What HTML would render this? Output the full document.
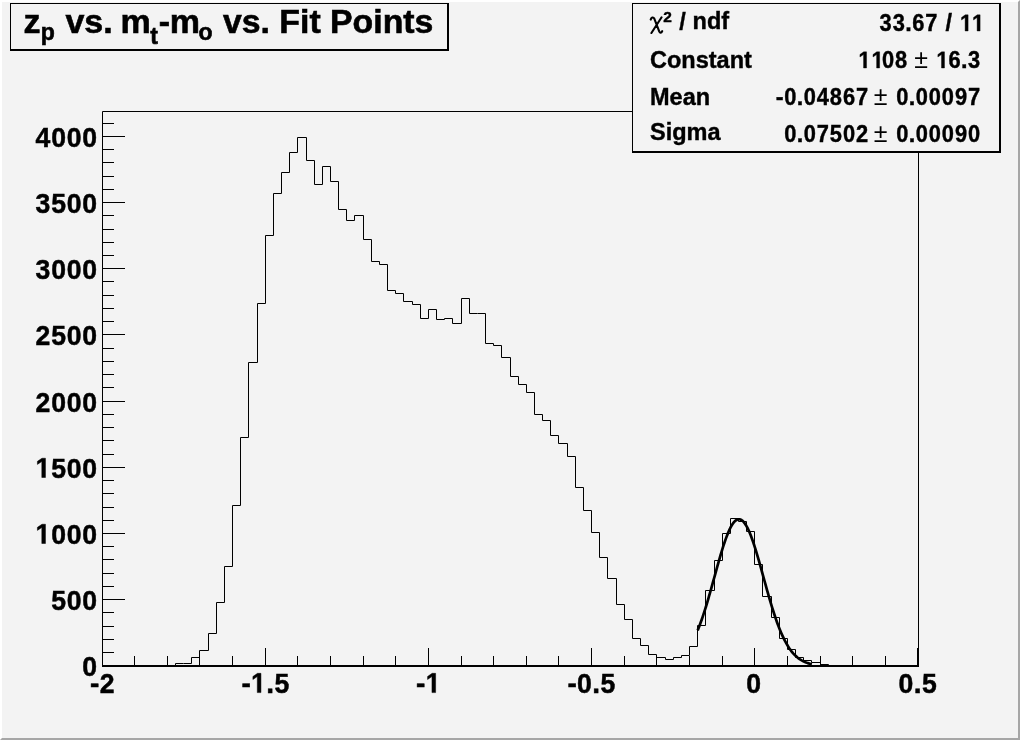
<!DOCTYPE html>
<html><head><meta charset="utf-8"><style>
html,body{margin:0;padding:0;background:#f3f3f3;}
svg{display:block;will-change:transform;}
</style></head><body>
<svg width="1020" height="740" viewBox="0 0 1020 740" font-family="'Liberation Sans', sans-serif" font-weight="bold" fill="#000">
<rect x="0" y="0" width="1020" height="740" fill="#f3f3f3"/>
<!-- canvas bevel -->
<polygon points="0,0 1020,0 1018,2 2,2 2,738 0,740" fill="#ffffff"/>
<polygon points="1020,0 1020,740 0,740 2,738 1018,738 1018,2" fill="#a6a6a6"/>
<!-- frame -->
<path d="M102.5 665.5 V111.5 H918.5 V665.5" fill="none" stroke="#000" stroke-width="1"/>
<rect x="102" y="665" width="817" height="2" fill="#000"/>
<path d="M102.5 665 V648 M134.5 665 V656 M167.5 665 V656 M199.5 665 V656 M232.5 665 V656 M265.5 665 V648 M297.5 665 V656 M330.5 665 V656 M363.5 665 V656 M395.5 665 V656 M428.5 665 V648 M461.5 665 V656 M493.5 665 V656 M526.5 665 V656 M558.5 665 V656 M591.5 665 V648 M624.5 665 V656 M656.5 665 V656 M689.5 665 V656 M722.5 665 V656 M754.5 665 V648 M787.5 665 V656 M820.5 665 V656 M852.5 665 V656 M885.5 665 V656 M917.5 665 V648 M103 665.5 H125 M103 652.5 H114 M103 639.5 H114 M103 626.5 H114 M103 612.5 H114 M103 599.5 H125 M103 586.5 H114 M103 573.5 H114 M103 559.5 H114 M103 546.5 H114 M103 533.5 H125 M103 520.5 H114 M103 507.5 H114 M103 493.5 H114 M103 480.5 H114 M103 467.5 H125 M103 454.5 H114 M103 440.5 H114 M103 427.5 H114 M103 414.5 H114 M103 401.5 H125 M103 387.5 H114 M103 374.5 H114 M103 361.5 H114 M103 348.5 H114 M103 334.5 H125 M103 321.5 H114 M103 308.5 H114 M103 295.5 H114 M103 281.5 H114 M103 268.5 H125 M103 255.5 H114 M103 242.5 H114 M103 229.5 H114 M103 215.5 H114 M103 202.5 H125 M103 189.5 H114 M103 176.5 H114 M103 162.5 H114 M103 149.5 H114 M103 136.5 H125 M103 123.5 H114" fill="none" stroke="#000" stroke-width="1"/>
<!-- histogram -->
<path d="M102.5 665.5 L102.5 665.5 L110.5 665.5 L110.5 665.5 L118.5 665.5 L118.5 665.5 L126.5 665.5 L126.5 665.5 L134.5 665.5 L134.5 665.5 L142.5 665.5 L142.5 665.5 L150.5 665.5 L150.5 665.5 L159.5 665.5 L159.5 665.5 L167.5 665.5 L167.5 665.5 L175.5 665.5 L175.5 663.5 L183.5 663.5 L183.5 663.5 L191.5 663.5 L191.5 657.5 L199.5 657.5 L199.5 650.5 L208.5 650.5 L208.5 633.5 L216.5 633.5 L216.5 602.5 L224.5 602.5 L224.5 566.5 L232.5 566.5 L232.5 505.5 L240.5 505.5 L240.5 437.5 L248.5 437.5 L248.5 362.5 L257.5 362.5 L257.5 303.5 L265.5 303.5 L265.5 235.5 L273.5 235.5 L273.5 193.5 L281.5 193.5 L281.5 172.5 L289.5 172.5 L289.5 152.5 L297.5 152.5 L297.5 137.5 L306.5 137.5 L306.5 160.5 L314.5 160.5 L314.5 184.5 L322.5 184.5 L322.5 166.5 L330.5 166.5 L330.5 181.5 L338.5 181.5 L338.5 209.5 L346.5 209.5 L346.5 220.5 L354.5 220.5 L354.5 215.5 L363.5 215.5 L363.5 239.5 L371.5 239.5 L371.5 261.5 L379.5 261.5 L379.5 264.5 L387.5 264.5 L387.5 290.5 L395.5 290.5 L395.5 293.5 L403.5 293.5 L403.5 301.5 L412.5 301.5 L412.5 304.5 L420.5 304.5 L420.5 318.5 L428.5 318.5 L428.5 309.5 L436.5 309.5 L436.5 319.5 L444.5 319.5 L444.5 318.5 L452.5 318.5 L452.5 323.5 L461.5 323.5 L461.5 298.5 L469.5 298.5 L469.5 313.5 L477.5 313.5 L477.5 313.5 L485.5 313.5 L485.5 343.5 L493.5 343.5 L493.5 345.5 L501.5 345.5 L501.5 357.5 L510.5 357.5 L510.5 376.5 L518.5 376.5 L518.5 384.5 L526.5 384.5 L526.5 392.5 L534.5 392.5 L534.5 414.5 L542.5 414.5 L542.5 420.5 L550.5 420.5 L550.5 435.5 L558.5 435.5 L558.5 443.5 L567.5 443.5 L567.5 456.5 L575.5 456.5 L575.5 487.5 L583.5 487.5 L583.5 510.5 L591.5 510.5 L591.5 532.5 L599.5 532.5 L599.5 557.5 L607.5 557.5 L607.5 578.5 L616.5 578.5 L616.5 604.5 L624.5 604.5 L624.5 619.5 L632.5 619.5 L632.5 638.5 L640.5 638.5 L640.5 645.5 L648.5 645.5 L648.5 654.5 L656.5 654.5 L656.5 657.5 L665.5 657.5 L665.5 659.5 L673.5 659.5 L673.5 657.5 L681.5 657.5 L681.5 655.5 L689.5 655.5 L689.5 646.5 L697.5 646.5 L697.5 625.5 L705.5 625.5 L705.5 590.5 L714.5 590.5 L714.5 560.5 L722.5 560.5 L722.5 533.5 L730.5 533.5 L730.5 518.5 L738.5 518.5 L738.5 521.5 L746.5 521.5 L746.5 531.5 L754.5 531.5 L754.5 564.5 L762.5 564.5 L762.5 596.5 L771.5 596.5 L771.5 617.5 L779.5 617.5 L779.5 638.5 L787.5 638.5 L787.5 649.5 L795.5 649.5 L795.5 657.5 L803.5 657.5 L803.5 660.5 L811.5 660.5 L811.5 662.5 L820.5 662.5 L820.5 664.5 L828.5 664.5 L828.5 665.5 L836.5 665.5 L836.5 665.5 L844.5 665.5 L844.5 665.5 L852.5 665.5 L852.5 665.5 L860.5 665.5 L860.5 665.5 L869.5 665.5 L869.5 665.5 L877.5 665.5 L877.5 665.5 L885.5 665.5 L885.5 665.5 L893.5 665.5 L893.5 665.5 L901.5 665.5 L901.5 665.5 L909.5 665.5 L909.5 665.5 L918.5 665.5 L918.5 665.5" fill="none" stroke="#000" stroke-width="1"/>
<path d="M697.68 630.37 L698.50 628.34 L699.31 626.24 L700.13 624.06 L700.94 621.82 L701.76 619.51 L702.58 617.13 L703.39 614.69 L704.21 612.18 L705.02 609.61 L705.84 606.99 L706.66 604.31 L707.47 601.58 L708.29 598.81 L709.10 595.99 L709.92 593.14 L710.74 590.25 L711.55 587.34 L712.37 584.40 L713.18 581.45 L714.00 578.49 L714.82 575.52 L715.63 572.56 L716.45 569.61 L717.26 566.68 L718.08 563.77 L718.90 560.89 L719.71 558.05 L720.53 555.25 L721.34 552.51 L722.16 549.83 L722.98 547.22 L723.79 544.69 L724.61 542.24 L725.42 539.88 L726.24 537.61 L727.06 535.45 L727.87 533.40 L728.69 531.47 L729.50 529.66 L730.32 527.98 L731.14 526.44 L731.95 525.03 L732.77 523.77 L733.58 522.66 L734.40 521.69 L735.22 520.89 L736.03 520.24 L736.85 519.74 L737.66 519.41 L738.48 519.25 L739.30 519.24 L740.11 519.40 L740.93 519.72 L741.74 520.20 L742.56 520.84 L743.38 521.64 L744.19 522.59 L745.01 523.70 L745.82 524.95 L746.64 526.35 L747.46 527.88 L748.27 529.55 L749.09 531.35 L749.90 533.28 L750.72 535.32 L751.54 537.47 L752.35 539.73 L753.17 542.08 L753.98 544.53 L754.80 547.06 L755.62 549.67 L756.43 552.34 L757.25 555.08 L758.06 557.87 L758.88 560.71 L759.70 563.58 L760.51 566.49 L761.33 569.42 L762.14 572.37 L762.96 575.34 L763.78 578.30 L764.59 581.26 L765.41 584.21 L766.22 587.15 L767.04 590.06 L767.86 592.95 L768.67 595.81 L769.49 598.63 L770.30 601.41 L771.12 604.14 L771.94 606.82 L772.75 609.45 L773.57 612.02 L774.38 614.53 L775.20 616.98 L776.02 619.36 L776.83 621.68 L777.65 623.92 L778.46 626.10 L779.28 628.21 L780.10 630.24 L780.91 632.20 L781.73 634.09 L782.54 635.91 L783.36 637.66 L784.18 639.33 L784.99 640.93 L785.81 642.46 L786.62 643.92 L787.44 645.31 L788.26 646.64 L789.07 647.90 L789.89 649.10 L790.70 650.23 L791.52 651.31 L792.34 652.32 L793.15 653.28 L793.97 654.19 L794.78 655.04 L795.60 655.84 L796.42 656.59 L797.23 657.30 L798.05 657.96 L798.86 658.58 L799.68 659.15 L800.50 659.69 L801.31 660.19 L802.13 660.66 L802.94 661.10 L803.76 661.50 L804.58 661.87 L805.39 662.22 L806.21 662.54 L807.02 662.84 L807.84 663.11 L808.66 663.36 L809.47 663.59 L810.29 663.80 L811.10 664.00 L811.92 664.18" fill="none" stroke="#000" stroke-width="2.7" stroke-linejoin="round"/>
<!-- axis labels -->
<g font-size="28" stroke="#000" stroke-width="0.2">
<g stroke-width="0.5"><text transform="translate(89.71 675.50) scale(0.950 1)" x="-7.79" font-size="28">0</text></g>
<g stroke-width="0.5"><text transform="translate(58.57 609.50) scale(0.950 1)" x="-7.79" font-size="28">5</text><text transform="translate(74.14 609.50) scale(0.950 1)" x="-7.79" font-size="28">0</text><text transform="translate(89.71 609.50) scale(0.950 1)" x="-7.79" font-size="28">0</text></g>
<g stroke-width="0.5"><path transform="translate(43.00 543.50) scale(0.01299 -0.01367) translate(-570 0)" d="M478 0 L759 0 L759 1409 L493 1409 L140 1180 L140 959 L478 1170 Z" stroke-width="36.6"/><text transform="translate(58.57 543.50) scale(0.950 1)" x="-7.79" font-size="28">0</text><text transform="translate(74.14 543.50) scale(0.950 1)" x="-7.79" font-size="28">0</text><text transform="translate(89.71 543.50) scale(0.950 1)" x="-7.79" font-size="28">0</text></g>
<g stroke-width="0.5"><path transform="translate(43.00 477.50) scale(0.01299 -0.01367) translate(-570 0)" d="M478 0 L759 0 L759 1409 L493 1409 L140 1180 L140 959 L478 1170 Z" stroke-width="36.6"/><text transform="translate(58.57 477.50) scale(0.950 1)" x="-7.79" font-size="28">5</text><text transform="translate(74.14 477.50) scale(0.950 1)" x="-7.79" font-size="28">0</text><text transform="translate(89.71 477.50) scale(0.950 1)" x="-7.79" font-size="28">0</text></g>
<g stroke-width="0.5"><text transform="translate(43.00 411.50) scale(0.950 1)" x="-7.79" font-size="28">2</text><text transform="translate(58.57 411.50) scale(0.950 1)" x="-7.79" font-size="28">0</text><text transform="translate(74.14 411.50) scale(0.950 1)" x="-7.79" font-size="28">0</text><text transform="translate(89.71 411.50) scale(0.950 1)" x="-7.79" font-size="28">0</text></g>
<g stroke-width="0.5"><text transform="translate(43.00 344.50) scale(0.950 1)" x="-7.79" font-size="28">2</text><text transform="translate(58.57 344.50) scale(0.950 1)" x="-7.79" font-size="28">5</text><text transform="translate(74.14 344.50) scale(0.950 1)" x="-7.79" font-size="28">0</text><text transform="translate(89.71 344.50) scale(0.950 1)" x="-7.79" font-size="28">0</text></g>
<g stroke-width="0.5"><text transform="translate(43.00 278.50) scale(0.950 1)" x="-7.79" font-size="28">3</text><text transform="translate(58.57 278.50) scale(0.950 1)" x="-7.79" font-size="28">0</text><text transform="translate(74.14 278.50) scale(0.950 1)" x="-7.79" font-size="28">0</text><text transform="translate(89.71 278.50) scale(0.950 1)" x="-7.79" font-size="28">0</text></g>
<g stroke-width="0.5"><text transform="translate(43.00 212.50) scale(0.950 1)" x="-7.79" font-size="28">3</text><text transform="translate(58.57 212.50) scale(0.950 1)" x="-7.79" font-size="28">5</text><text transform="translate(74.14 212.50) scale(0.950 1)" x="-7.79" font-size="28">0</text><text transform="translate(89.71 212.50) scale(0.950 1)" x="-7.79" font-size="28">0</text></g>
<g stroke-width="0.5"><text transform="translate(43.00 146.50) scale(0.950 1)" x="-7.79" font-size="28">4</text><text transform="translate(58.57 146.50) scale(0.950 1)" x="-7.79" font-size="28">0</text><text transform="translate(74.14 146.50) scale(0.950 1)" x="-7.79" font-size="28">0</text><text transform="translate(89.71 146.50) scale(0.950 1)" x="-7.79" font-size="28">0</text></g>
<g stroke-width="0.5"><text x="90.05" y="692.60" font-size="28">-</text><text transform="translate(107.16 692.60) scale(0.950 1)" x="-7.79" font-size="28">2</text></g>
<g stroke-width="0.5"><text x="241.38 266.27" y="692.60" font-size="28">-.</text><path transform="translate(258.49 692.60) scale(0.01299 -0.01367) translate(-570 0)" d="M478 0 L759 0 L759 1409 L493 1409 L140 1180 L140 959 L478 1170 Z" stroke-width="36.6"/><text transform="translate(281.84 692.60) scale(0.950 1)" x="-7.79" font-size="28">5</text></g>
<g stroke-width="0.5"><text x="416.05" y="692.60" font-size="28">-</text><path transform="translate(433.16 692.60) scale(0.01299 -0.01367) translate(-570 0)" d="M478 0 L759 0 L759 1409 L493 1409 L140 1180 L140 959 L478 1170 Z" stroke-width="36.6"/></g>
<g stroke-width="0.5"><text x="567.38 592.27" y="692.60" font-size="28">-.</text><text transform="translate(584.49 692.60) scale(0.950 1)" x="-7.79" font-size="28">0</text><text transform="translate(607.84 692.60) scale(0.950 1)" x="-7.79" font-size="28">5</text></g>
<g stroke-width="0.5"><text transform="translate(753.70 692.60) scale(0.950 1)" x="-7.79" font-size="28">0</text></g>
<g stroke-width="0.5"><text x="913.71" y="692.60" font-size="28">.</text><text transform="translate(905.92 692.60) scale(0.950 1)" x="-7.79" font-size="28">0</text><text transform="translate(929.28 692.60) scale(0.950 1)" x="-7.79" font-size="28">5</text></g>
</g>
<!-- title box -->
<rect x="10" y="3" width="439" height="48" fill="#000"/>
<rect x="11" y="4" width="436" height="45" fill="#f3f3f3"/>
<rect x="10" y="3" width="437" height="1" fill="#000"/>
<g font-size="34" stroke="#000" stroke-width="0.6">
<text x="23.6" y="33">z</text>
<text x="40.8" y="39.6" font-size="23">p</text>
<text x="65.4" y="33">vs.</text>
<text x="120.6" y="33">m</text>
<text x="150.2" y="43.5" font-size="23">t</text>
<text x="158.8" y="33">-</text>
<text x="169.8" y="33">m</text>
<text x="198.5" y="39.7" font-size="23">o</text>
<text x="223" y="33" font-size="33.8">vs. Fit Points</text>
</g>
<!-- stats box -->
<rect x="632" y="3" width="369" height="150" fill="#000"/>
<rect x="633" y="4" width="366" height="147" fill="#f3f3f3"/>
<g font-size="23.5" stroke="#000" stroke-width="0.4">
<path d="M650.7 19.6 C651.3 17.4 653.2 16.6 654.3 18.6 L659.3 31.6 C659.9 33.0 661.3 33.0 662.2 31.2 M661.6 17.3 L651.4 33.0" fill="none" stroke="#000" stroke-width="2.1" stroke-linecap="round"/>
<text x="663.3" y="21.8" font-size="15.5">2</text>
<text x="679.3" y="29.5">/</text>
<text x="692.6" y="29">ndf</text>
<text x="650" y="68">Constant</text>
<text x="650" y="105">Mean</text>
<text x="650" y="140">Sigma</text>
<g stroke-width="0.4"><text x="905.23" y="31.00" font-size="23.5">.</text><text transform="translate(885.63 31.00) scale(0.930 1)" x="-6.53" font-size="23.5">3</text><text transform="translate(898.70 31.00) scale(0.930 1)" x="-6.53" font-size="23.5">3</text><text transform="translate(918.30 31.00) scale(0.930 1)" x="-6.53" font-size="23.5">6</text><text transform="translate(931.37 31.00) scale(0.930 1)" x="-6.53" font-size="23.5">7</text></g><g stroke-width="0.4"><text x="945.60" y="31.00" font-size="23.5">/</text></g><g stroke-width="0.4"><path transform="translate(963.43 31.00) scale(0.01067 -0.01147) translate(-320 0)" d="M478 0 L759 0 L759 1409 L493 1409 L140 1180 L140 959 L478 1170 Z" stroke-width="34.9"/></g><g stroke-width="0.4"><path transform="translate(975.43 31.00) scale(0.01067 -0.01147) translate(-320 0)" d="M478 0 L759 0 L759 1409 L493 1409 L140 1180 L140 959 L478 1170 Z" stroke-width="34.9"/></g>
<g stroke-width="0.4"><path transform="translate(861.86 68.00) scale(0.01067 -0.01147) translate(-320 0)" d="M478 0 L759 0 L759 1409 L493 1409 L140 1180 L140 959 L478 1170 Z" stroke-width="34.9"/><path transform="translate(874.93 68.00) scale(0.01067 -0.01147) translate(-320 0)" d="M478 0 L759 0 L759 1409 L493 1409 L140 1180 L140 959 L478 1170 Z" stroke-width="34.9"/><text transform="translate(888.00 68.00) scale(0.930 1)" x="-6.53" font-size="23.5">0</text><text transform="translate(901.07 68.00) scale(0.930 1)" x="-6.53" font-size="23.5">8</text></g>
<g stroke-width="0.4"><text x="961.00" y="68.00" font-size="23.5">.</text><path transform="translate(941.40 68.00) scale(0.01067 -0.01147) translate(-470 0)" d="M478 0 L759 0 L759 1409 L493 1409 L140 1180 L140 959 L478 1170 Z" stroke-width="34.9"/><text transform="translate(954.47 68.00) scale(0.930 1)" x="-6.53" font-size="23.5">6</text><text transform="translate(974.07 68.00) scale(0.930 1)" x="-6.53" font-size="23.5">3</text></g>
<g stroke-width="0.4"><text x="775.83 796.72" y="105.00" font-size="23.5">-.</text><text transform="translate(790.19 105.00) scale(0.930 1)" x="-6.53" font-size="23.5">0</text><text transform="translate(809.79 105.00) scale(0.930 1)" x="-6.53" font-size="23.5">0</text><text transform="translate(822.86 105.00) scale(0.930 1)" x="-6.53" font-size="23.5">4</text><text transform="translate(835.93 105.00) scale(0.930 1)" x="-6.53" font-size="23.5">8</text><text transform="translate(849.00 105.00) scale(0.930 1)" x="-6.53" font-size="23.5">6</text><text transform="translate(862.07 105.00) scale(0.930 1)" x="-6.53" font-size="23.5">7</text></g>
<g stroke-width="0.4"><text x="908.72" y="105.00" font-size="23.5">.</text><text transform="translate(902.19 105.00) scale(0.930 1)" x="-6.53" font-size="23.5">0</text><text transform="translate(921.79 105.00) scale(0.930 1)" x="-6.53" font-size="23.5">0</text><text transform="translate(934.86 105.00) scale(0.930 1)" x="-6.53" font-size="23.5">0</text><text transform="translate(947.93 105.00) scale(0.930 1)" x="-6.53" font-size="23.5">0</text><text transform="translate(961.00 105.00) scale(0.930 1)" x="-6.53" font-size="23.5">9</text><text transform="translate(974.07 105.00) scale(0.930 1)" x="-6.53" font-size="23.5">7</text></g>
<g stroke-width="0.4"><text x="796.72" y="142.00" font-size="23.5">.</text><text transform="translate(790.19 142.00) scale(0.930 1)" x="-6.53" font-size="23.5">0</text><text transform="translate(809.79 142.00) scale(0.930 1)" x="-6.53" font-size="23.5">0</text><text transform="translate(822.86 142.00) scale(0.930 1)" x="-6.53" font-size="23.5">7</text><text transform="translate(835.93 142.00) scale(0.930 1)" x="-6.53" font-size="23.5">5</text><text transform="translate(849.00 142.00) scale(0.930 1)" x="-6.53" font-size="23.5">0</text><text transform="translate(862.07 142.00) scale(0.930 1)" x="-6.53" font-size="23.5">2</text></g>
<g stroke-width="0.4"><text x="908.72" y="142.00" font-size="23.5">.</text><text transform="translate(902.19 142.00) scale(0.930 1)" x="-6.53" font-size="23.5">0</text><text transform="translate(921.79 142.00) scale(0.930 1)" x="-6.53" font-size="23.5">0</text><text transform="translate(934.86 142.00) scale(0.930 1)" x="-6.53" font-size="23.5">0</text><text transform="translate(947.93 142.00) scale(0.930 1)" x="-6.53" font-size="23.5">0</text><text transform="translate(961.00 142.00) scale(0.930 1)" x="-6.53" font-size="23.5">9</text><text transform="translate(974.07 142.00) scale(0.930 1)" x="-6.53" font-size="23.5">0</text></g>
<g font-weight="normal" font-size="25" stroke="none">
<text x="914.2" y="67.5">&#177;</text>
<text x="873.8" y="104.5">&#177;</text>
<text x="873.8" y="141.5">&#177;</text>
</g>
</g>
</svg>
</body></html>
